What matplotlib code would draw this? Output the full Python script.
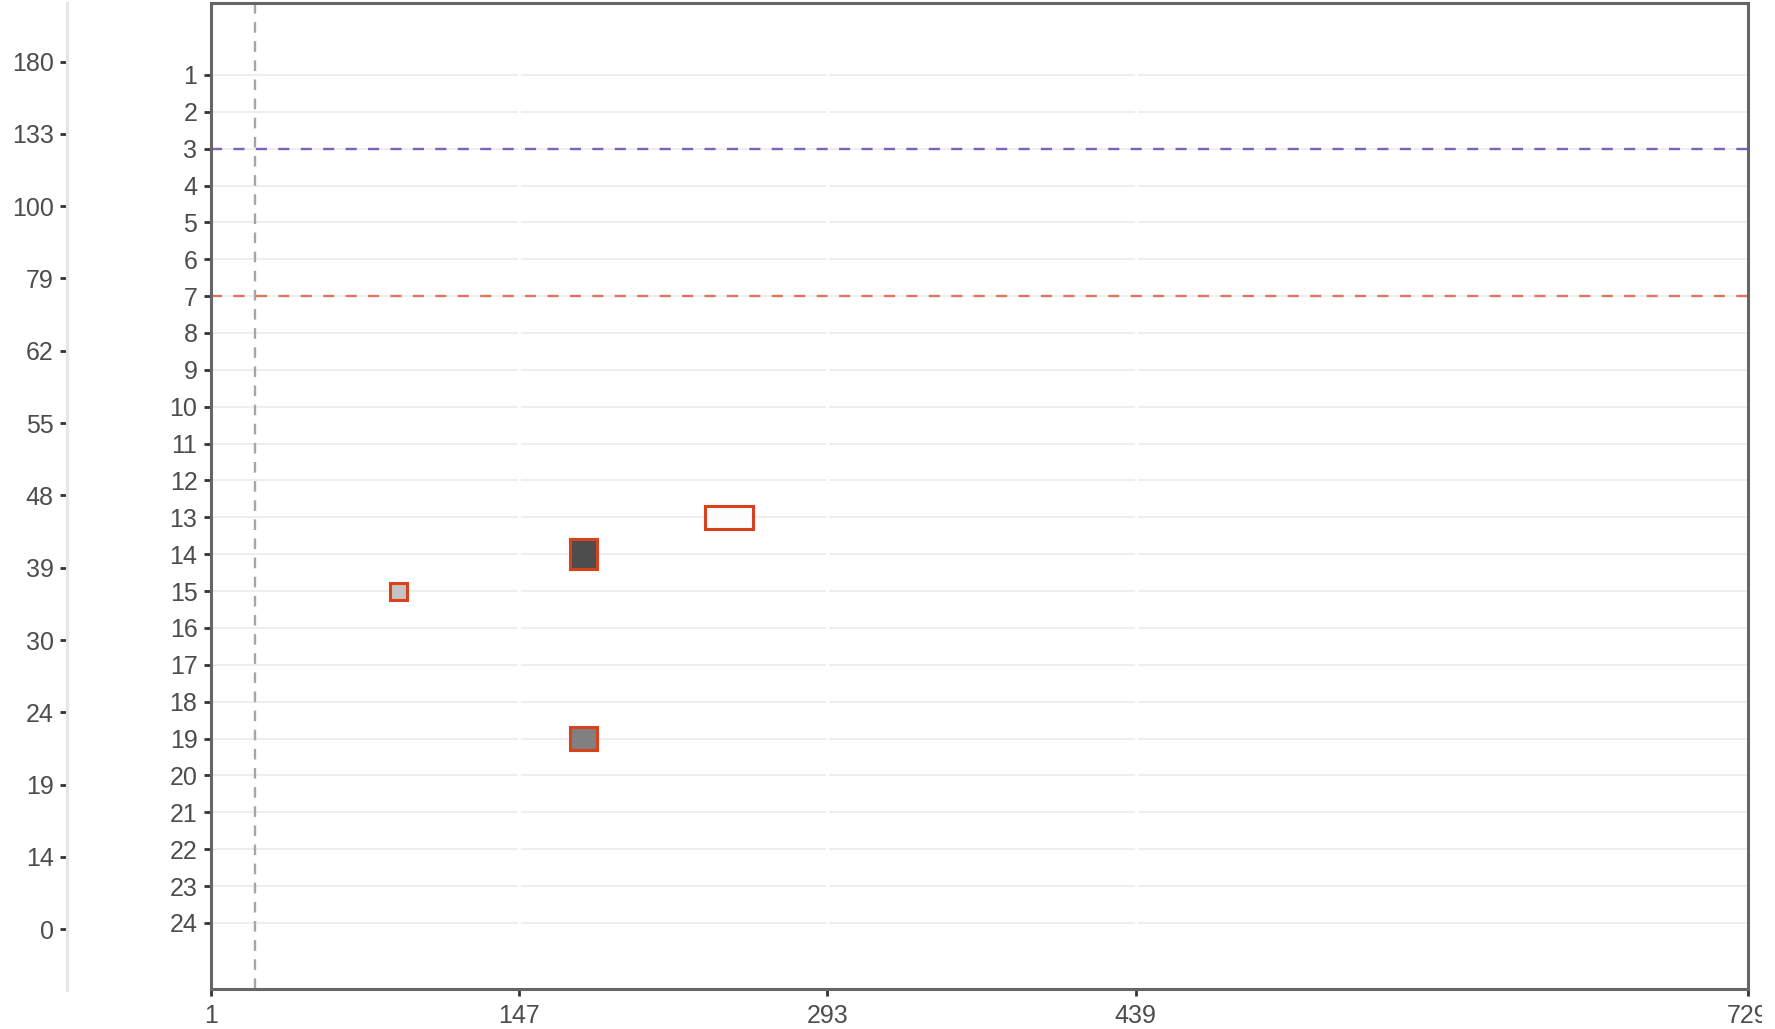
import matplotlib
matplotlib.use("Agg")
import matplotlib.pyplot as plt
from matplotlib.patches import Rectangle

plt.rcParams['font.family'] = ['Liberation Sans', 'DejaVu Sans']

# ---- data ----
row_labels = [str(i) for i in range(1, 25)]
row_positions = list(range(1, 25))
x_ticks = [1, 147, 293, 439, 729]
x_limits = [1, 729]
left_labels = ['0', '14', '19', '24', '30', '39', '48', '55', '62', '79', '100', '133', '180']

rect_rows = [15, 14, 19, 13]
rect_x0 = [86, 171, 171, 235]
rect_x1 = [94, 184, 184, 258]
rect_h = [0.46, 0.82, 0.64, 0.62]
rect_fill = ['#c4c4c4', '#4d4d4d', '#808080', '#fcfcfc']

vline_x = 22
hline_purple = 3
hline_red = 7

W, H = 1775, 1029
fig = plt.figure(figsize=(W / 100, H / 100), dpi=100)

# main axes
ax = fig.add_axes([210.6 / W, (H - 989.3) / H, 1537.4 / W, 986.3 / H])
ax.set_xlim(*x_limits)
ax.set_ylim(25.8, -0.95)
ax.set_axisbelow(True)

ax.set_yticks(row_positions)
ax.set_yticklabels(row_labels)
ax.set_xticks(x_ticks)
ax.set_xticklabels([str(v) for v in x_ticks])

ax.grid(axis='y', color='#ebebeb', lw=1.2)
for xv in x_ticks[1:-1]:
    ax.axvline(xv, color='white', lw=2.4, zorder=0.7)

for s in ax.spines.values():
    s.set_color('#666666')
    s.set_linewidth(2.2)

ax.tick_params(axis='both', colors='#333333', labelcolor='#4d4d4d',
               labelsize=18, length=5, width=2.0, pad=4.5)
ax.tick_params(axis='x', pad=5.5)

ax.axvline(vline_x, color='#a6a6a6', lw=1.7, ls=(0, (4.5, 3.6)), zorder=2)
ax.axhline(hline_purple, color='#7b63b9', lw=1.7, ls=(0, (4.7, 4.8)), zorder=2)
ax.axhline(hline_red, color='#e07565', lw=1.7, ls=(0, (4.7, 4.8)), zorder=2)

for r, x0, x1, h, fc in zip(rect_rows, rect_x0, rect_x1, rect_h, rect_fill):
    ax.add_patch(Rectangle((x0, r - h / 2), x1 - x0, h, facecolor=fc,
                           edgecolor='#d9401c', lw=2.2, zorder=3))

# left secondary axis
ax2 = fig.add_axes([67 / W, (H - 990) / H, 0.001, 987 / H])
ax2.set_ylim(-0.84, 12.81)
ax2.set_yticks(range(len(left_labels)))
ax2.set_yticklabels(left_labels)
ax2.set_xticks([])
for k in ['top', 'right', 'bottom']:
    ax2.spines[k].set_visible(False)
ax2.spines['left'].set_color('#e6e6e6')
ax2.spines['left'].set_linewidth(2.2)
ax2.patch.set_alpha(0)
ax2.tick_params(axis='y', colors='#333333', labelcolor='#4d4d4d',
                labelsize=18, length=5, width=2.0, pad=4.5)

# canvas edge: the original clips the last x label at its drawing area
fig.patches.append(Rectangle((1762 / W, 0), 1 - 1762 / W, 1, transform=fig.transFigure,
                             facecolor='white', edgecolor='none', zorder=10))

fig.savefig('out.png', dpi=100)
